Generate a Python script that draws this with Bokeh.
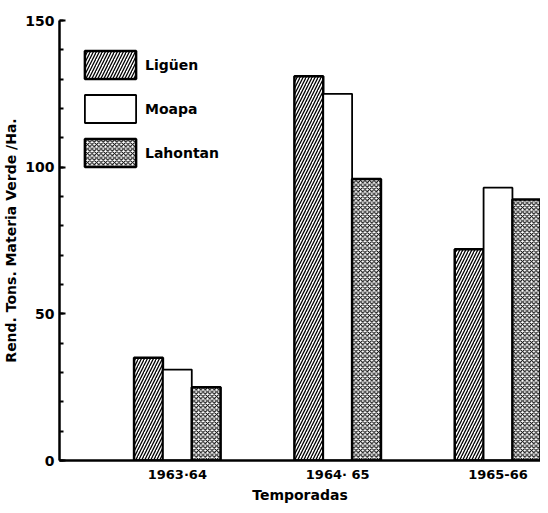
from bokeh.plotting import figure
from bokeh.models import Range1d, FixedTicker, SingleIntervalTicker, Legend, LegendItem
from bokeh.embed import file_html
from bokeh.resources import INLINE

# Data
seasons = ["1963·64", "1964· 65", "1965-66"]
liguen = [35, 131, 72]
moapa = [31, 125, 93]
lahontan = [25, 96, 89]
series_names = ["Ligüen", "Moapa", "Lahontan"]

FONT = "DejaVu Sans"
pos = [1, 2, 3]
w = 0.18

p = figure(width=540, height=505, output_backend="svg", toolbar_location=None,
           x_range=Range1d(0.265, 3.265), y_range=Range1d(0, 150),
           min_border_left=54, min_border_top=20, min_border_bottom=42, min_border_right=0)
p.outline_line_color = None
p.xgrid.visible = False
p.ygrid.visible = False
p.background_fill_color = "white"

r1 = p.vbar(x=[x - w for x in pos], top=liguen, width=w, fill_color="white",
            line_color="black", line_width=2.5, hatch_pattern="/", hatch_color="black",
            hatch_scale=6, hatch_weight=1.3)
r2 = p.vbar(x=pos, top=moapa, width=w, fill_color="white",
            line_color="black", line_width=1.8)
r3 = p.vbar(x=[x + w for x in pos], top=lahontan, width=w, fill_color="white",
            line_color="black", line_width=2.5, hatch_pattern="x", hatch_color="black",
            hatch_scale=4.5, hatch_weight=1.1)

legend = Legend(items=[LegendItem(label=series_names[0], renderers=[r1]),
                       LegendItem(label=series_names[1], renderers=[r2]),
                       LegendItem(label=series_names[2], renderers=[r3])],
                location=(19, 290), glyph_width=64, glyph_height=35, spacing=9,
                padding=0, margin=0, border_line_alpha=0, background_fill_alpha=0,
                label_text_font=FONT, label_text_font_size="14px",
                label_text_font_style="bold", label_text_color="black", label_standoff=3)
p.add_layout(legend, "center")

# Y axis
ya = p.yaxis[0]
ya.ticker = SingleIntervalTicker(interval=50, num_minor_ticks=5)
ya.axis_line_width = 2.5
ya.major_tick_in = 6
ya.major_tick_out = 0
ya.minor_tick_in = 4
ya.minor_tick_out = 0
ya.major_tick_line_width = 2
ya.minor_tick_line_width = 2
ya.major_label_text_font = FONT
ya.major_label_text_font_size = "14px"
ya.major_label_text_font_style = "bold"
ya.major_label_text_color = "black"
ya.major_label_standoff = 5
ya.axis_label = "Rend. Tons. Materia Verde /Ha."
ya.axis_label_text_font = FONT
ya.axis_label_text_font_size = "14px"
ya.axis_label_text_font_style = "bold"
ya.axis_label_text_color = "black"
ya.axis_label_standoff = 3

# X axis
xa = p.xaxis[0]
xa.ticker = FixedTicker(ticks=pos)
xa.major_label_overrides = {1: seasons[0], 2: seasons[1], 3: seasons[2]}
xa.axis_line_width = 2.5
xa.major_tick_in = 0
xa.major_tick_out = 0
xa.minor_tick_in = 0
xa.minor_tick_out = 0
xa.major_label_text_font = FONT
xa.major_label_text_font_size = "13px"
xa.major_label_text_font_style = "bold"
xa.major_label_text_color = "black"
xa.major_label_standoff = 6
xa.axis_label = "Temporadas"
xa.axis_label_text_font = FONT
xa.axis_label_text_font_size = "14px"
xa.axis_label_text_font_style = "bold"
xa.axis_label_text_color = "black"
xa.axis_label_standoff = 2

open("out.html", "w").write(file_html(p, INLINE))
